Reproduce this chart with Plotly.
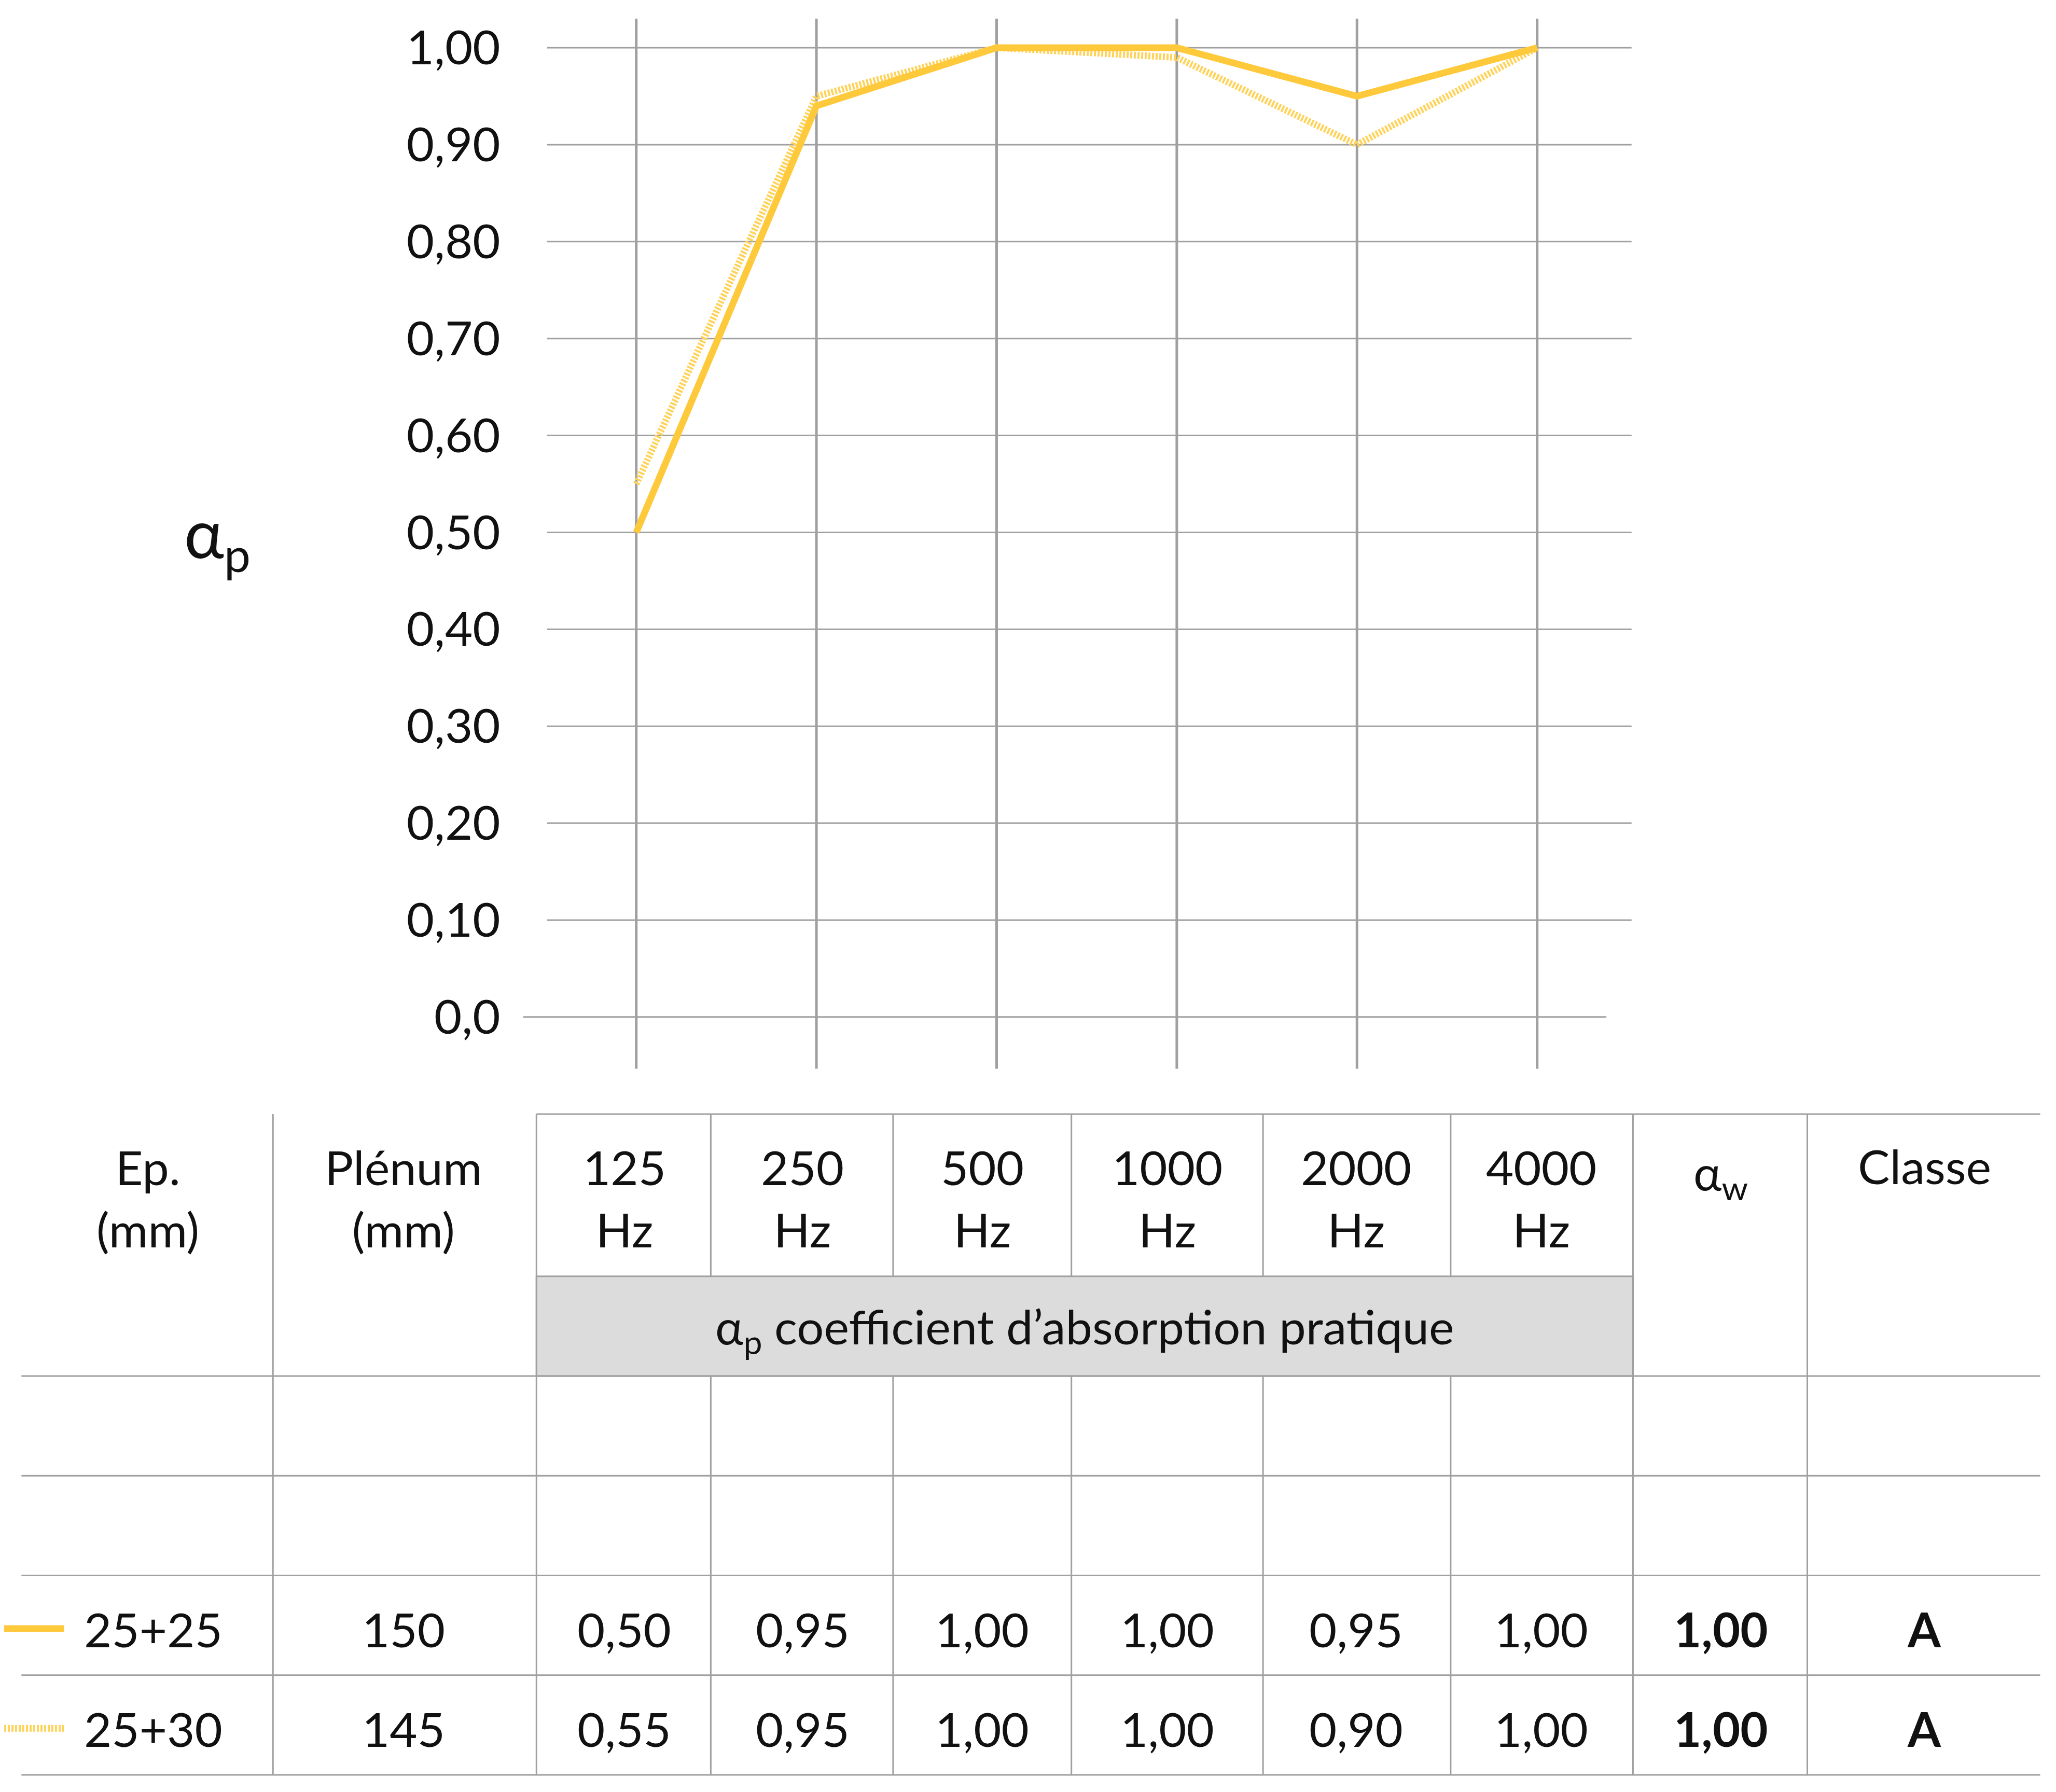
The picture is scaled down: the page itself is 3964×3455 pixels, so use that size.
import plotly.graph_objects as go

freqs = ["125", "250", "500", "1000", "2000", "4000"]
s1_name, s1_plenum = "25+25", "150"
s2_name, s2_plenum = "25+30", "145"
s1_vals = [0.50, 0.94, 1.00, 1.00, 0.95, 1.00]
s2_vals = [0.55, 0.95, 1.00, 0.99, 0.90, 1.00]
s1_table = ["0,50", "0,95", "1,00", "1,00", "0,95", "1,00"]
s2_table = ["0,55", "0,95", "1,00", "1,00", "0,90", "1,00"]
alpha_w = ["1,00", "1,00"]
classe = ["A", "A"]
yticks = [0, 0.1, 0.2, 0.3, 0.4, 0.5, 0.6, 0.7, 0.8, 0.9, 1.0]
yticklabels = ["0,0", "0,10", "0,20", "0,30", "0,40", "0,50", "0,60", "0,70", "0,80", "0,90", "1,00"]

W, H = 3964, 3455
DW, DH = 1545, 1347
S = W / DW
FONT = "Lato"
YEL = "#FFC93C"
YEL2 = "#FFD25A"
GRID = "#a0a0a0"

def px(x): return x / DW
def py(y): return 1 - y / DH

fig = go.Figure()
xi = list(range(len(freqs)))
fig.add_trace(go.Scatter(x=xi, y=s2_vals, mode="lines", line=dict(color=YEL2, width=13, dash="4px,3px"), showlegend=False))
fig.add_trace(go.Scatter(x=xi, y=s1_vals, mode="lines", line=dict(color=YEL, width=13), showlegend=False))

step = 135.4
xr = [(390 - 475) / step, (1223 - 475) / step]
yr = [-(800 - 761) / 729, 1 + (32 - 10) / 729]

shapes = []
for v in yticks:
    if v == 0:
        x0 = xr[0]; x1 = (1204 - 475) / step
    else:
        x0 = (408 - 475) / step; x1 = xr[1]
    shapes.append(dict(type="line", xref="x", yref="y", x0=x0, x1=x1, y0=v, y1=v, line=dict(color=GRID, width=3), layer="below"))
for i in xi:
    shapes.append(dict(type="line", xref="x", yref="y", x0=i, x1=i, y0=yr[0], y1=yr[1], line=dict(color=GRID, width=5), layer="below"))

def pl(x0, y0, x1, y1, w=3, c=GRID):
    shapes.append(dict(type="line", xref="paper", yref="paper", x0=px(x0), x1=px(x1), y0=py(y0), y1=py(y1), line=dict(color=c, width=w)))

shapes.append(dict(type="rect", xref="paper", yref="paper", x0=px(400), x1=px(1224), y0=py(956), y1=py(1031), fillcolor="#dcdcdc", line=dict(color=GRID, width=3), layer="below"))
pl(400, 834, 1530, 834)
for y in [1031, 1106, 1181, 1256, 1331]:
    pl(13, y, 1530, y)
for x in [202, 400, 1224, 1355]:
    pl(x, 834, x, 1331)
for x in [531, 668, 802, 946, 1087]:
    pl(x, 834, x, 956)
    pl(x, 1031, x, 1331)
pl(0, 1221, 45, 1221, w=13, c=YEL)
shapes.append(dict(type="line", xref="paper", yref="paper", x0=0, x1=px(45), y0=py(1296), y1=py(1296), line=dict(color=YEL2, width=13, dash="4px,3px")))

ann = []
FS = 92
def t(x, y, text, size=FS, bold=False):
    if bold: text = "<b>" + text + "</b>"
    ann.append(dict(xref="paper", yref="paper", x=px(x), y=py(y), text=text, showarrow=False,
                    font=dict(family=FONT, size=size, color="#111"), xanchor="center", yanchor="middle"))

t(160, 400, "α<sub>p</sub>", size=130)
t(108, 897, "Ep.<br>(mm)")
t(300, 897, "Plénum<br>(mm)")
cols = [466, 600, 735, 874, 1016, 1155]
for c, f in zip(cols, freqs):
    t(c, 897, f + "<br>Hz")
t(1290, 880, "α<sub>w</sub>")
t(1443, 873, "Classe")
t(812, 996, "α<sub>p</sub> coefficient d’absorption pratique")
rows = [(1221, s1_name, s1_plenum, s1_table, alpha_w[0], classe[0]),
        (1296, s2_name, s2_plenum, s2_table, alpha_w[1], classe[1])]
for y, n, p, vals, aw, cl in rows:
    t(112, y, n); t(300, y, p)
    for c, v in zip(cols, vals):
        t(c, y, v)
    t(1290, y, aw, bold=True); t(1443, y, cl, bold=True)

fig.update_layout(
    width=W, height=H, margin=dict(l=0, r=0, t=0, b=0),
    paper_bgcolor="white", plot_bgcolor="white",
    xaxis=dict(domain=[px(390), px(1223)], range=xr, showgrid=False, zeroline=False, showticklabels=False),
    yaxis=dict(domain=[py(800), py(10)], range=yr, showgrid=False, zeroline=False,
               tickvals=yticks, ticktext=yticklabels, ticks="", ticklabelstandoff=int(17 * S),
               tickfont=dict(family=FONT, size=FS, color="#111")),
    shapes=shapes, annotations=ann,
)
fig.write_html("out.html")
